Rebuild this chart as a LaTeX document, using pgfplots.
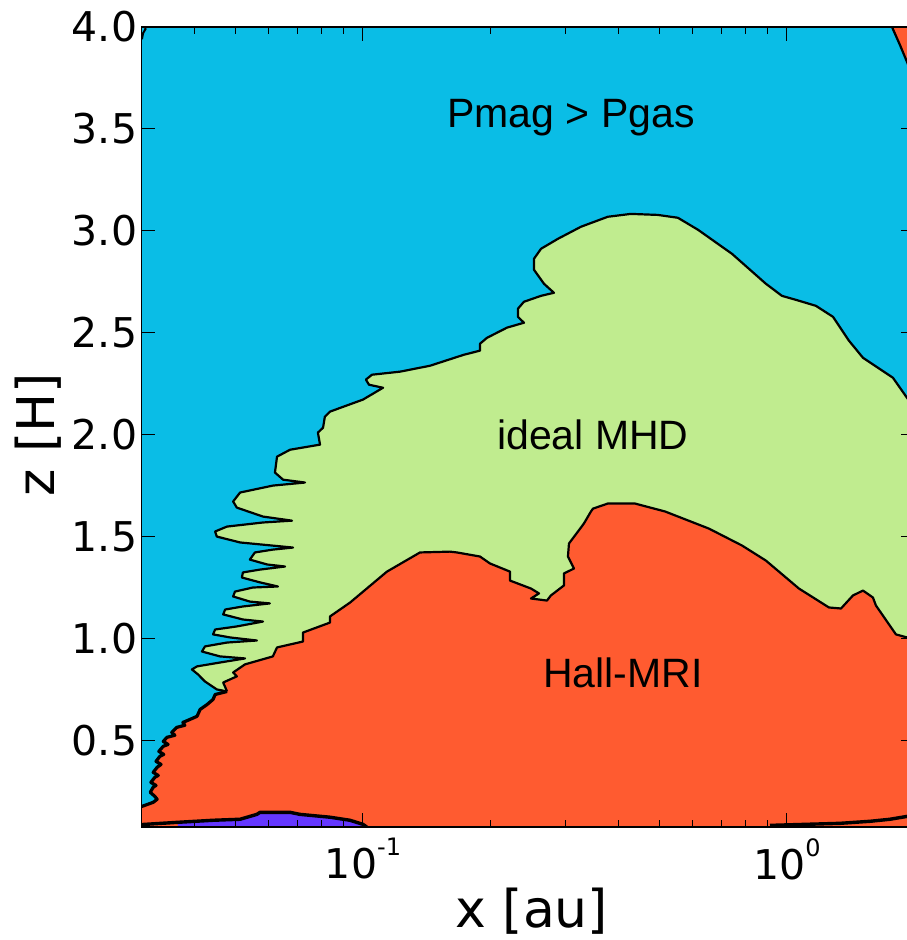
\documentclass[border=0pt]{standalone}
\usepackage{fontspec}
\setmainfont{DejaVu Sans}
\newfontfamily\annfont{Liberation Sans}
\usepackage{pgfplots}
\pgfplotsset{compat=1.18}
\definecolor{cblue}{RGB}{10,189,230}
\definecolor{cgreen}{RGB}{192,236,143}
\definecolor{cred}{RGB}{255,91,48}
\definecolor{cpurple}{RGB}{100,55,255}
\newcommand\supx[1]{\raisebox{23bp}{\fontsize{24bp}{24bp}\selectfont #1}}
\begin{document}
\begin{tikzpicture}
\useasboundingbox (-141.3bp,-113bp) rectangle (765.7bp,827bp);
\begin{axis}[
  at={(0,0)}, anchor=south west,
  scale only axis, width=773.3bp, height=800bp,
  xmode=log, xmin=0.03, xmax=2, ymin=0.075, ymax=4,
  axis background/.style={fill=cblue},
  axis on top,
  xtick={0.1,1},
  xticklabels={10\supx{-1},10\supx{0}},
  minor xtick={0.03,0.04,0.05,0.06,0.07,0.08,0.09,0.2,0.3,0.4,0.5,0.6,0.7,0.8,0.9,2},
  ytick={0.5,1,1.5,2,2.5,3,3.5,4},
  minor ytick={},
  yticklabel style={/pgf/number format/fixed,/pgf/number format/fixed zerofill,/pgf/number format/precision=1,/pgf/number format/assume math mode=true, inner sep=0pt, xshift=-4bp},
  xticklabel style={inner sep=0pt, yshift=-11bp},
  ticklabel style={font=\fontsize{41bp}{48bp}\selectfont},
  major tick length=14bp, minor tick length=7bp,
  tick style={black, line width=1bp},
  axis line style={black, line width=1.3bp},
  xlabel={x [au]}, ylabel={z [H]},
  label style={font=\fontsize{52bp}{60bp}\selectfont},
  xlabel style={at={(axis description cs:0.505,-0.125)}, anchor=base, inner sep=0pt},
  ylabel style={at={(axis description cs:-0.1116,0.49)}, anchor=base, rotate=0, inner sep=0pt},
]
% green region (ideal MHD), below the upper boundary
\addplot[fill=cgreen, draw=none] coordinates {
(2.0,2.13) (1.919,2.181) (1.778,2.279) (1.511,2.377) (1.400,2.461) (1.284,2.578)
(1.170,2.632) (1.067,2.657) (0.973,2.681) (0.892,2.740) (0.742,2.887) (0.617,3.005)
(0.553,3.064) (0.496,3.078) (0.4285,3.083) (0.378,3.069) (0.3267,3.020) (0.2884,2.961)
(0.2630,2.912) (0.2531,2.863) (0.2531,2.809) (0.2673,2.740) (0.2821,2.696) (0.2630,2.681)
(0.2397,2.652) (0.2320,2.618) (0.2320,2.578) (0.2397,2.549) (0.2186,2.525) (0.1961,2.475)
(0.1888,2.446) (0.1888,2.412) (0.1730,2.392) (0.1439,2.338) (0.1223,2.309) (0.1050,2.294)
(0.1016,2.270) (0.1033,2.245) (0.1115,2.230) (0.1000,2.172) (0.0836,2.113) (0.0813,2.088)
(0.0805,2.034) (0.0783,2.010) (0.0792,1.951) (0.0673,1.926) (0.0627,1.892) (0.0620,1.814)
(0.0648,1.779) (0.0730,1.765) (0.0613,1.750) (0.0513,1.716) (0.0494,1.672) (0.0504,1.642)
(0.0581,1.598) (0.0680,1.578) (0.0581,1.569) (0.0478,1.549) (0.0448,1.525) (0.0452,1.500)
(0.0513,1.471) (0.0684,1.446) (0.0613,1.436) (0.0556,1.422) (0.0541,1.387) (0.0594,1.363)
(0.0655,1.353) (0.0572,1.338) (0.0521,1.324) (0.0518,1.299) (0.0572,1.275) (0.0630,1.255)
(0.0550,1.250) (0.0499,1.230) (0.0494,1.206) (0.0541,1.181) (0.0603,1.172) (0.0521,1.157)
(0.0473,1.142) (0.0468,1.118) (0.0521,1.093) (0.0581,1.083) (0.0504,1.059) (0.0448,1.044)
(0.0443,1.020) (0.0486,1.005) (0.0562,0.990) (0.0478,0.980) (0.0424,0.961) (0.0417,0.936)
(0.0460,0.912) (0.0527,0.902) (0.0460,0.882) (0.0406,0.863) (0.0395,0.848) (0.0408,0.824)
(0.0424,0.789) (0.0452,0.750) (0.0478,0.740)
(0.0448,0.725) (0.0443,0.701) (0.0429,0.676) (0.0413,0.652) (0.0406,0.618) (0.0391,0.603)
(0.0376,0.588) (0.0380,0.574) (0.0364,0.564) (0.0354,0.539) (0.0360,0.525) (0.0345,0.515)
(0.0338,0.495) (0.0347,0.480) (0.0338,0.471) (0.0330,0.446) (0.0339,0.431) (0.0332,0.422)
(0.0325,0.397) (0.0334,0.382) (0.0327,0.368) (0.0320,0.343) (0.0329,0.328) (0.0323,0.319)
(0.0316,0.294) (0.0325,0.279) (0.0320,0.270) (0.0315,0.245) (0.0323,0.225) (0.0327,0.211)
(0.0320,0.196) (0.0301,0.176) (0.029,0.176)
(0.029,0.07) (2.0,0.07)
};
% red region (Hall-MRI)
\addplot[fill=cred, draw=none] coordinates {
(0.029,0.07) (0.029,0.176) (0.0301,0.176) (0.0320,0.196) (0.0327,0.211) (0.0323,0.225)
(0.0315,0.245) (0.0320,0.270) (0.0325,0.279) (0.0316,0.294) (0.0323,0.319) (0.0329,0.328)
(0.0320,0.343) (0.0327,0.368) (0.0334,0.382) (0.0325,0.397) (0.0332,0.422) (0.0339,0.431)
(0.0330,0.446) (0.0338,0.471) (0.0347,0.480) (0.0338,0.495) (0.0345,0.515) (0.0360,0.525)
(0.0354,0.539) (0.0364,0.564) (0.0380,0.574) (0.0376,0.588) (0.0391,0.603) (0.0406,0.618)
(0.0413,0.652) (0.0429,0.676) (0.0443,0.701) (0.0448,0.725)
(0.0478,0.740) (0.0468,0.784) (0.0504,0.814) (0.0494,0.833) (0.0527,0.873) (0.0613,0.912)
(0.0627,0.956) (0.0722,0.985) (0.0722,1.029) (0.0836,1.078) (0.0836,1.108) (0.0932,1.176)
(0.1139,1.328) (0.1363,1.422) (0.1604,1.426) (0.1666,1.422) (0.1888,1.402) (0.1993,1.368)
(0.2222,1.328) (0.2222,1.284) (0.2490,1.245) (0.2601,1.221) (0.2490,1.196) (0.2716,1.186)
(0.2775,1.211) (0.2978,1.260) (0.2978,1.319) (0.3145,1.343) (0.3044,1.402) (0.3061,1.466)
(0.3320,1.564) (0.3449,1.623) (0.3487,1.637) (0.378,1.662) (0.4380,1.662) (0.5157,1.623)
(0.6546,1.539) (0.7834,1.456) (0.892,1.382) (1.067,1.245) (1.256,1.152) (1.341,1.147)
(1.431,1.211) (1.511,1.235) (1.595,1.201) (1.621,1.162) (1.807,1.020) (1.919,1.005)
(2.0,0.995) (2.0,0.07)
};
% orange corner, top right
\addplot[fill=cred, draw=none] coordinates {
(1.769,4.0) (1.847,3.912) (1.920,3.828) (2.0,3.735) (2.0,4.0)
};
% purple patch at the bottom
\addplot[fill=cpurple, draw=none] coordinates {
(0.0366,0.07) (0.0366,0.098) (0.0443,0.108) (0.0513,0.113) (0.0562,0.137) (0.0572,0.147)
(0.0673,0.147) (0.0710,0.137) (0.0836,0.123) (0.0932,0.108) (0.1000,0.088) (0.1028,0.07)
};
% boundaries
\addplot[black, line width=2.2bp, line join=round] coordinates {
(2.0,2.13) (1.919,2.181) (1.778,2.279) (1.511,2.377) (1.400,2.461) (1.284,2.578)
(1.170,2.632) (1.067,2.657) (0.973,2.681) (0.892,2.740) (0.742,2.887) (0.617,3.005)
(0.553,3.064) (0.496,3.078) (0.4285,3.083) (0.378,3.069) (0.3267,3.020) (0.2884,2.961)
(0.2630,2.912) (0.2531,2.863) (0.2531,2.809) (0.2673,2.740) (0.2821,2.696) (0.2630,2.681)
(0.2397,2.652) (0.2320,2.618) (0.2320,2.578) (0.2397,2.549) (0.2186,2.525) (0.1961,2.475)
(0.1888,2.446) (0.1888,2.412) (0.1730,2.392) (0.1439,2.338) (0.1223,2.309) (0.1050,2.294)
(0.1016,2.270) (0.1033,2.245) (0.1115,2.230) (0.1000,2.172) (0.0836,2.113) (0.0813,2.088)
(0.0805,2.034) (0.0783,2.010) (0.0792,1.951) (0.0673,1.926) (0.0627,1.892) (0.0620,1.814)
(0.0648,1.779) (0.0730,1.765) (0.0613,1.750) (0.0513,1.716) (0.0494,1.672) (0.0504,1.642)
(0.0581,1.598) (0.0680,1.578) (0.0581,1.569) (0.0478,1.549) (0.0448,1.525) (0.0452,1.500)
(0.0513,1.471) (0.0684,1.446) (0.0613,1.436) (0.0556,1.422) (0.0541,1.387) (0.0594,1.363)
(0.0655,1.353) (0.0572,1.338) (0.0521,1.324) (0.0518,1.299) (0.0572,1.275) (0.0630,1.255)
(0.0550,1.250) (0.0499,1.230) (0.0494,1.206) (0.0541,1.181) (0.0603,1.172) (0.0521,1.157)
(0.0473,1.142) (0.0468,1.118) (0.0521,1.093) (0.0581,1.083) (0.0504,1.059) (0.0448,1.044)
(0.0443,1.020) (0.0486,1.005) (0.0562,0.990) (0.0478,0.980) (0.0424,0.961) (0.0417,0.936)
(0.0460,0.912) (0.0527,0.902) (0.0460,0.882) (0.0406,0.863) (0.0395,0.848) (0.0408,0.824)
(0.0424,0.789) (0.0452,0.750) (0.0478,0.740)
};
\addplot[black, line width=3.2bp, line join=round] coordinates {
(0.0478,0.740) (0.0448,0.725) (0.0443,0.701) (0.0429,0.676) (0.0413,0.652) (0.0406,0.618)
(0.0391,0.603) (0.0376,0.588) (0.0380,0.574) (0.0364,0.564) (0.0354,0.539) (0.0360,0.525)
(0.0345,0.515) (0.0338,0.495) (0.0347,0.480) (0.0338,0.471) (0.0330,0.446) (0.0339,0.431)
(0.0332,0.422) (0.0325,0.397) (0.0334,0.382) (0.0327,0.368) (0.0320,0.343) (0.0329,0.328)
(0.0323,0.319) (0.0316,0.294) (0.0325,0.279) (0.0320,0.270) (0.0315,0.245) (0.0323,0.225)
(0.0327,0.211) (0.0320,0.196) (0.0301,0.176) (0.029,0.176)
};
\addplot[black, line width=2.2bp, line join=round] coordinates {
(0.0478,0.740) (0.0468,0.784) (0.0504,0.814) (0.0494,0.833) (0.0527,0.873) (0.0613,0.912)
(0.0627,0.956) (0.0722,0.985) (0.0722,1.029) (0.0836,1.078) (0.0836,1.108) (0.0932,1.176)
(0.1139,1.328) (0.1363,1.422) (0.1604,1.426) (0.1666,1.422) (0.1888,1.402) (0.1993,1.368)
(0.2222,1.328) (0.2222,1.284) (0.2490,1.245) (0.2601,1.221) (0.2490,1.196) (0.2716,1.186)
(0.2775,1.211) (0.2978,1.260) (0.2978,1.319) (0.3145,1.343) (0.3044,1.402) (0.3061,1.466)
(0.3320,1.564) (0.3449,1.623) (0.3487,1.637) (0.378,1.662) (0.4380,1.662) (0.5157,1.623)
(0.6546,1.539) (0.7834,1.456) (0.892,1.382) (1.067,1.245) (1.256,1.152) (1.341,1.147)
(1.431,1.211) (1.511,1.235) (1.595,1.201) (1.621,1.162) (1.807,1.020) (1.919,1.005)
(2.0,0.995)
};
\addplot[black, line width=3.4bp, line join=round] coordinates {
(0.029,0.085) (0.0366,0.098) (0.0443,0.108) (0.0513,0.113) (0.0562,0.137) (0.0572,0.147)
(0.0673,0.147) (0.0710,0.137) (0.0836,0.123) (0.0932,0.108) (0.1000,0.088) (0.1028,0.07)
};
\addplot[black, line width=3.4bp, line join=round] coordinates {
(0.912,0.083) (1.334,0.093) (1.570,0.103) (1.750,0.113) (1.920,0.127) (2.0,0.133)
};
\addplot[black, line width=2.2bp, line join=round] coordinates {
(1.769,4.0) (1.847,3.912) (1.920,3.828) (2.0,3.735)
};
\addplot[black, line width=2bp] coordinates {
(0.0301,3.94) (0.0303,3.97) (0.0307,3.99) (0.0306,4.0)
};
\node[anchor=base, inner sep=0pt, font=\annfont\fontsize{41bp}{48bp}\selectfont] at (axis cs:0.3094,3.505) {Pmag > Pgas};
\node[anchor=base, inner sep=0pt, font=\annfont\fontsize{41bp}{48bp}\selectfont] at (axis cs:0.3487,1.926) {ideal MHD};
\node[anchor=base, inner sep=0pt, font=\annfont\fontsize{41bp}{48bp}\selectfont] at (axis cs:0.4104,0.760) {Hall-MRI};
\end{axis}
\end{tikzpicture}
\end{document}
